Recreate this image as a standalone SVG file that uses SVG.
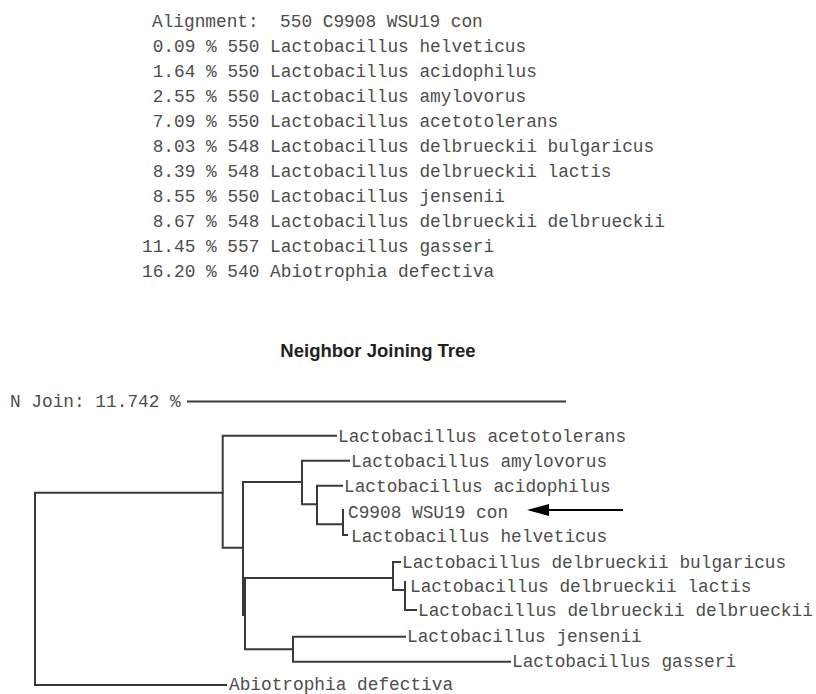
<svg xmlns="http://www.w3.org/2000/svg" width="816" height="694" viewBox="0 0 816 694">
<defs>
<style>
.mono{font-family:"Liberation Mono","Courier New",monospace;font-size:17.8px;fill:#4d4d4d;white-space:pre}
.title{font-family:"Liberation Sans",Arial,sans-serif;font-size:18.5px;font-weight:bold;fill:#222}
.br{fill:none;stroke:#3a3a3a;stroke-width:2;stroke-linecap:square}
</style>
</defs>
<rect width="816" height="694" fill="#fff"/>
<g id="alignment">
<text class="mono" x="152" y="27">Alignment:  550 C9908 WSU19 con</text>
<text class="mono" x="152.7" y="52">0.09 % 550 Lactobacillus helveticus</text>
<text class="mono" x="152.7" y="77">1.64 % 550 Lactobacillus acidophilus</text>
<text class="mono" x="152.7" y="102">2.55 % 550 Lactobacillus amylovorus</text>
<text class="mono" x="152.7" y="127">7.09 % 550 Lactobacillus acetotolerans</text>
<text class="mono" x="152.7" y="152">8.03 % 548 Lactobacillus delbrueckii bulgaricus</text>
<text class="mono" x="152.7" y="177">8.39 % 548 Lactobacillus delbrueckii lactis</text>
<text class="mono" x="152.7" y="202">8.55 % 550 Lactobacillus jensenii</text>
<text class="mono" x="152.7" y="227">8.67 % 548 Lactobacillus delbrueckii delbrueckii</text>
<text class="mono" x="142" y="252">11.45 % 557 Lactobacillus gasseri</text>
<text class="mono" x="142" y="277">16.20 % 540 Abiotrophia defectiva</text>
</g>
<g id="title"><text class="title" x="378" y="357" text-anchor="middle">Neighbor Joining Tree</text></g>
<g id="scale">
<text class="mono" x="10" y="407">N Join: 11.742 %</text>
<line class="br" x1="188" y1="401.5" x2="565" y2="401.5"/>
</g>
<g id="connectors">
<path class="br" d="M35,492.7 V685 M35,492.7 H222.7 M35,685 H226"/>
<path class="br" d="M222.7,435.7 V547.7 M222.7,435.7 H336 M222.7,547.7 H243"/>
<path class="br" d="M243,482 V615 M243,482 H302"/>
<path class="br" d="M302,460.7 V504.3 M302,460.7 H349 M302,504.3 H317"/>
<path class="br" d="M317,485.7 V524.3 M317,485.7 H342 M317,524.3 H343"/>
<path class="br" d="M343,510 V535 M343,535 H347"/>
<path class="br" d="M245,578 V649.3 M245,578 H393 M245,649.3 H293"/>
<path class="br" d="M393,562 V590 M393,562 H400 M393,590 H405"/>
<path class="br" d="M405,582 V610 M405,610 H416"/>
<path class="br" d="M293,636.7 V661.7 M293,636.7 H405 M293,661.7 H510"/>
</g>
<g id="arrow">
<line x1="546" y1="510" x2="623" y2="510" stroke="#000" stroke-width="2.2"/>
<polygon points="527,510 549,504 549,516" fill="#000"/>
</g>
<g id="n-acetotolerans"><text class="mono" x="338" y="441.5">Lactobacillus acetotolerans</text></g>
<g id="n-amylovorus"><text class="mono" x="351" y="466.5">Lactobacillus amylovorus</text></g>
<g id="n-acidophilus"><text class="mono" x="344" y="491.5">Lactobacillus acidophilus</text></g>
<g id="n-c9908"><text class="mono" x="348" y="517.5">C9908 WSU19 con</text></g>
<g id="n-helveticus"><text class="mono" x="351" y="541.5">Lactobacillus helveticus</text></g>
<g id="n-bulgaricus"><text class="mono" x="402" y="567.5">Lactobacillus delbrueckii bulgaricus</text></g>
<g id="n-lactis"><text class="mono" x="410" y="591.5">Lactobacillus delbrueckii lactis</text></g>
<g id="n-delbrueckii"><text class="mono" x="418" y="615.5">Lactobacillus delbrueckii delbrueckii</text></g>
<g id="n-jensenii"><text class="mono" x="407" y="642">Lactobacillus jensenii</text></g>
<g id="n-gasseri"><text class="mono" x="512" y="667">Lactobacillus gasseri</text></g>
<g id="n-abiotrophia"><text class="mono" x="229" y="689.5">Abiotrophia defectiva</text></g>
</svg>
